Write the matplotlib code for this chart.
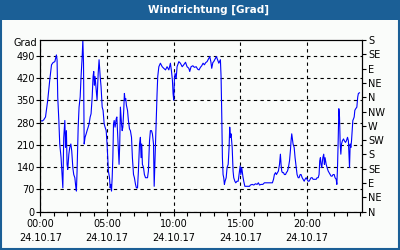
import matplotlib
matplotlib.use("Agg")
import matplotlib.pyplot as plt
from matplotlib.patches import Rectangle

# time of day in minutes, wind direction in degrees
minutes = [0, 8, 15, 23, 27, 33, 42, 50, 57, 65, 72, 75, 78, 83, 87, 93, 98, 101,
           105, 110, 113, 117, 120, 123, 128, 132, 137, 141, 146, 150, 155, 159,
           162, 165, 170, 174, 179, 183, 188, 191, 194, 197, 201, 206, 210, 215,
           219, 224, 228, 233, 237, 240, 243, 246, 251, 255, 260, 264, 269, 273,
           278, 282, 287, 291, 296, 300, 303, 306, 311, 314, 317, 320, 323, 326,
           329, 332, 336, 341, 344, 347, 351, 354, 357, 360, 365, 368, 371, 375,
           378, 381, 384, 387, 392, 396, 401, 405, 410, 414, 419, 423, 428, 432,
           437, 441, 446, 450, 453, 456, 459, 464, 468, 473, 477, 482, 486, 491,
           495, 500, 504, 509, 512, 516, 521, 525, 528, 533, 540, 548, 555, 563,
           570, 578, 585, 590, 594, 597, 600, 603, 606, 611, 615, 623, 630, 638,
           645, 653, 660, 668, 672, 678, 686, 693, 701, 708, 714, 720, 726, 732,
           738, 744, 750, 756, 762, 767, 771, 776, 780, 786, 792, 797, 803,
           810, 813, 816, 819, 822, 825, 828, 831, 836, 840, 845, 849, 852, 855,
           858, 863, 867, 870, 875, 879, 885, 890, 894, 899, 902, 906, 911, 915,
           920, 926, 933, 941, 945, 953, 960, 968, 975, 981, 986, 993, 1001, 1008,
           1016, 1023, 1031, 1038, 1044, 1049, 1053, 1058, 1062, 1067, 1071, 1076,
           1080, 1083, 1086, 1089, 1094, 1098, 1103, 1107, 1112, 1116, 1121, 1125,
           1128, 1131, 1134, 1137, 1142, 1146, 1151, 1155, 1160, 1164, 1169, 1173,
           1178, 1182, 1187, 1191, 1196, 1200, 1205, 1209, 1214, 1218, 1223, 1227,
           1232, 1236, 1241, 1245, 1250, 1254, 1257, 1260, 1263, 1266, 1271, 1275,
           1278, 1281, 1286, 1290, 1295, 1299, 1304, 1308, 1313, 1317, 1322, 1326,
           1331, 1334, 1337, 1340, 1343, 1346, 1349, 1352, 1355, 1359, 1364, 1368,
           1373, 1377, 1382, 1386, 1391, 1394, 1397, 1400, 1403, 1406, 1409, 1412,
           1415, 1419, 1424, 1428, 1431, 1436]
direction = [287, 285, 289, 298, 319, 351, 414, 462, 469, 472, 493, 478, 361, 287,
             213, 170, 107, 75, 233, 287, 202, 255, 149, 133, 181, 202, 213, 191,
             138, 117, 107, 80, 65, 128, 266, 329, 361, 425, 488, 540, 467, 213,
             234, 245, 255, 266, 276, 298, 308, 361, 425, 441, 398, 425, 382, 351,
             435, 478, 425, 393, 329, 319, 276, 266, 255, 213, 170, 128, 107, 75,
             86, 65, 107, 170, 276, 287, 266, 292, 298, 255, 192, 149, 213, 329,
             276, 255, 266, 319, 372, 351, 356, 335, 319, 287, 260, 255, 234, 170,
             117, 107, 86, 75, 75, 128, 213, 234, 170, 213, 149, 139, 117, 107,
             107, 107, 128, 223, 255, 255, 245, 213, 80, 170, 287, 372, 425, 456,
             467, 456, 451, 446, 456, 446, 467, 441, 414, 372, 351, 414, 435, 419,
             456, 472, 467, 456, 462, 470, 456, 451, 441, 456, 459, 454, 456, 448,
             446, 454, 459, 467, 462, 469, 472, 480, 488, 472, 451, 469, 472, 480,
             488, 478, 467,
             478, 425, 308, 170, 117, 107, 86, 96, 107, 139, 149, 202, 266, 234,
             245, 202, 128, 107, 96, 91, 96, 96, 117, 144, 117, 139, 112, 96, 80,
             80, 80, 80, 84, 86, 84, 88, 86, 91, 84, 86, 86, 91, 91, 91, 91, 91,
             91, 102, 117, 123, 117, 123, 128, 149, 181, 149, 128, 123, 123, 117,
             117, 123, 128, 139, 160, 192, 223, 245, 229, 213, 202, 170, 139, 117,
             107, 107, 117, 117, 107, 102, 96, 102, 107, 102, 96, 96, 102, 107,
             107, 102, 102, 102, 102, 107, 107, 117, 160, 170, 149, 139, 170, 181,
             149, 170, 149, 139, 128, 123, 117, 112, 112, 117, 117, 107, 102, 86,
             139, 223, 324, 298, 213, 181, 213, 223, 229, 223, 218, 223, 234, 223,
             139, 213, 202, 223, 255, 287, 292, 298, 319, 324, 329, 361, 372, 374]

x_ticks = [0, 300, 600, 900, 1200]
x_labels = ["00:00\n24.10.17", "05:00\n24.10.17", "10:00\n24.10.17",
            "15:00\n24.10.17", "20:00\n24.10.17"]
left_ticks = [0, 70, 140, 210, 280, 350, 420, 490]
compass_ticks = list(range(0, 541, 45))
compass_labels = ["N", "NE", "E", "SE", "S", "SW", "W", "NW",
                  "N", "NE", "E", "SE", "S"]

plt.rcParams['font.family'] = ['DejaVu Sans']
bg = '#fafcfa'
frame_blue = '#1b5f96'

fig = plt.figure(figsize=(4, 2.5), dpi=100, facecolor=bg)
fig.patches.append(Rectangle((0, 0.92), 1, 0.08, transform=fig.transFigure,
                             facecolor=frame_blue, edgecolor='none', zorder=0))
fig.patches.append(Rectangle((0.002, 0.003), 0.995, 0.995, transform=fig.transFigure,
                             facecolor='none', edgecolor=frame_blue, lw=1.5, zorder=1))
fig.text(0.52, 0.96, "Windrichtung [Grad]", color='white', fontsize=7.5,
         fontweight='bold', ha='center', va='center')

ax = fig.add_axes([0.101, 0.153, 0.805, 0.687])
ax.set_facecolor(bg)
ax.plot(minutes, direction, color='#0000ff', lw=0.8, zorder=3)
ax.set_xlim(0, 1449)
ax.set_ylim(0, 540)

ax.set_xticks(x_ticks)
ax.set_xticklabels(x_labels, fontsize=7, linespacing=1.6)
ax.set_xticks(range(0, 1441, 60), minor=True)
ax.set_yticks(left_ticks)
ax.set_yticklabels([str(v) for v in left_ticks], fontsize=7)
ax.tick_params(axis='x', which='both', length=3, width=0.8, pad=2, direction='out')
ax.tick_params(axis='y', length=3, width=0.8, pad=1, direction='out')
ax.grid(True, color='black', ls=(0, (3, 3)), lw=0.8)
for s in ax.spines.values():
    s.set_linewidth(0.8)
ax.text(-0.01, 0.985, "Grad", transform=ax.transAxes, ha='right', va='center',
        fontsize=7)

ax2 = ax.twinx()
ax2.set_ylim(0, 540)
ax2.set_yticks(compass_ticks)
ax2.set_yticklabels(compass_labels, fontsize=7)
ax2.tick_params(axis='y', length=3, width=0.8, pad=1)

fig.savefig("out.png", dpi=100, facecolor=bg)
